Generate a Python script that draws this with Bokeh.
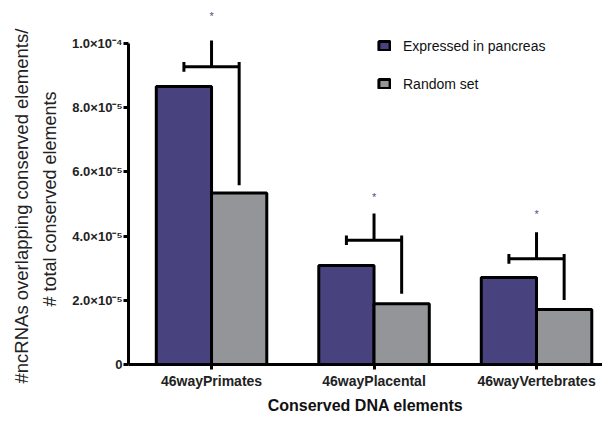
from bokeh.plotting import figure
from bokeh.models import Range1d, FixedTicker, CustomJSTickFormatter, Legend, Title
from bokeh.core.properties import value
from bokeh.embed import file_html
from bokeh.resources import INLINE

# ---- data ----
categories = ["46wayPrimates", "46wayPlacental", "46wayVertebrates"]
expressed = [8.66e-5, 3.08e-5, 2.71e-5]
random_set = [5.34e-5, 1.89e-5, 1.71e-5]
bracket_level = [9.27e-5, 3.87e-5, 3.29e-5]
bracket_top = [1.009e-4, 4.70e-5, 4.12e-5]
bracket_drop = [5.58e-5, 2.20e-5, 2.01e-5]
star_y = [1.085e-4, 5.21e-5, 4.70e-5]
y_ticks = [0, 2e-5, 4e-5, 6e-5, 8e-5, 1e-4]
y_tick_labels = ["0", "2.0\u00d710\u207b\u2075", "4.0\u00d710\u207b\u2075",
                 "6.0\u00d710\u207b\u2075", "8.0\u00d710\u207b\u2075", "1.0\u00d710\u207b\u2074"]
y_label_lines = ["#ncRNAs overlapping conserved elements/", "# total conserved elements"]
x_label = "Conserved DNA elements"
series_names = ["Expressed in pancreas", "Random set"]

FONT = "Liberation Sans"
BLUE = "#48437f"
GRAY = "#939598"
TXT = "#222222"
off = 0.17
bw = 0.34
cap = 1.5e-6

groups = list(range(len(categories)))

FRAME_BOTTOM = 365  # canvas px
p = figure(width=602, height=416, output_backend="svg", toolbar_location=None,
           x_range=Range1d(-0.511, 2.406), y_range=Range1d(0, 1.1335e-4),
           min_border_left=128, min_border_right=0, min_border_top=0,
           min_border_bottom=416 - FRAME_BOTTOM)
p.outline_line_color = None
p.xgrid.visible = False
p.ygrid.visible = False

r1 = p.vbar(x=[g - off for g in groups], top=expressed, width=bw, bottom=0,
            fill_color=BLUE, line_color="black", line_width=3)
r2 = p.vbar(x=[g + off for g in groups], top=random_set, width=bw, bottom=0,
            fill_color=GRAY, line_color="black", line_width=3)

# significance brackets
p.segment(x0=[g - off for g in groups], x1=[g + off for g in groups],
          y0=bracket_level, y1=bracket_level, line_color="black", line_width=3)
p.segment(x0=groups, x1=groups, y0=bracket_level, y1=bracket_top,
          line_color="black", line_width=3)
p.segment(x0=[g - off for g in groups], x1=[g - off for g in groups],
          y0=[v - cap for v in bracket_level], y1=[v + cap for v in bracket_level],
          line_color="black", line_width=3)
p.segment(x0=[g + off for g in groups], x1=[g + off for g in groups],
          y0=bracket_drop, y1=[v + cap for v in bracket_level],
          line_color="black", line_width=3)
p.text(x=groups, y=star_y, text=["*"] * len(groups), text_align="center",
       text_baseline="middle", text_font=value(FONT), text_font_size="11px",
       text_color="#5a4d80")

legend = Legend(items=[(series_names[0], [r1]), (series_names[1], [r2])],
                location=(249, 272), padding=0, margin=0, spacing=21,
                glyph_width=14, glyph_height=11, label_height=17,
                label_text_font=FONT, label_text_font_size="14px",
                label_text_color="#111111", background_fill_alpha=0,
                border_line_color=None, label_standoff=12)
p.add_layout(legend, "center")

# axes
ya = p.yaxis[0]
ya.ticker = FixedTicker(ticks=y_ticks)
ya.formatter = CustomJSTickFormatter(args=dict(labels=y_tick_labels), code="return labels[index];")
ya.bounds = (0, 1e-4)
ya.axis_line_width = 3
ya.major_tick_line_width = 3
ya.major_tick_out = 5
ya.major_tick_in = 0
ya.minor_tick_line_color = None
ya.major_label_text_font = FONT
ya.major_label_text_font_size = "13px"
ya.major_label_text_font_style = "bold"
ya.major_label_text_color = TXT
ya.major_label_standoff = 1

# two-line y axis title (inner line added first, so it sits next to the axis)
p.add_layout(Title(text=y_label_lines[1], align="left", offset=58, standoff=18,
                   text_font=FONT, text_font_size="18px", text_font_style="normal",
                   text_color=TXT), "left")
p.add_layout(Title(text=y_label_lines[0], align="left", offset=-19, standoff=-7,
                   text_font=FONT, text_font_size="18.5px", text_font_style="normal",
                   text_color=TXT), "left")

xa = p.xaxis[0]
xa.ticker = FixedTicker(ticks=groups)
xa.formatter = CustomJSTickFormatter(args=dict(labels=categories), code="return labels[index];")
xa.axis_line_width = 3
xa.major_tick_line_width = 3
xa.major_tick_out = 5
xa.major_tick_in = 0
xa.minor_tick_line_color = None
xa.major_label_text_font = FONT
xa.major_label_text_font_size = "14px"
xa.major_label_text_font_style = "bold"
xa.major_label_text_color = TXT
xa.major_label_standoff = 3
xa.axis_label = x_label
xa.axis_label_text_font = FONT
xa.axis_label_text_font_size = "16px"
xa.axis_label_text_font_style = "bold"
xa.axis_label_text_color = "#111111"
xa.axis_label_standoff = 5

open("out.html", "w").write(file_html(p, INLINE))
